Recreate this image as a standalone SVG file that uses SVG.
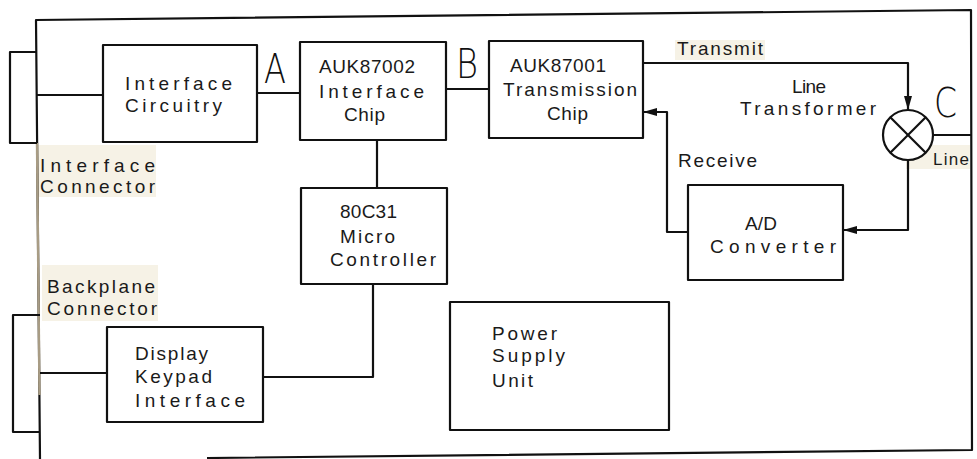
<svg xmlns="http://www.w3.org/2000/svg" width="977" height="459" viewBox="0 0 977 459">
<style>
.b{fill:#fff;stroke:#111;stroke-width:2.2;stroke-linejoin:round}
.l{fill:none;stroke:#111;stroke-width:2.2;stroke-linejoin:round}
.t{font-family:"Liberation Sans",Arial,sans-serif;font-size:19px;fill:#1a1a1a}
.big{font-family:"DejaVu Sans","Liberation Sans",sans-serif;font-weight:200;font-size:40px;fill:#111}
.bg{fill:#f6f2e6}
</style>
<defs>
<marker id="ar" viewBox="0 0 14 10" refX="14" refY="5" markerWidth="14" markerHeight="10" markerUnits="userSpaceOnUse" orient="auto">
<path d="M0,1 L14,5 L0,9 Z" fill="#111"/>
</marker>
</defs>
<rect width="977" height="459" fill="#fff"/>
<rect class="bg" x="38" y="145" width="118" height="52"/>
<rect class="bg" x="42" y="265" width="116" height="56"/>
<rect class="bg" x="906" y="145" width="64" height="24"/>
<rect class="bg" x="675" y="40" width="90" height="20"/>
<g id="frame">
<polyline class="l" points="207,458 972,450 971,10 36,20 40,459"/>
<line x1="37" y1="143" x2="39.5" y2="395" stroke="#a89c84" stroke-width="2.4"/>
</g>
<g id="connectors">
<polyline class="l" points="36,52 10,52 10,143 37,143"/>
<polyline class="l" points="40,315 13,315 13,432 40,432"/>
<line class="l" x1="36" y1="95" x2="103" y2="95"/>
<line class="l" x1="257" y1="93" x2="300" y2="93"/>
<line class="l" x1="446" y1="89" x2="489" y2="89"/>
<line class="l" x1="377" y1="140" x2="377" y2="188"/>
<polyline class="l" points="373,284 373,377 263,377"/>
<line class="l" x1="40" y1="373" x2="107" y2="373"/>
<polyline class="l" points="643,63 908,63 908,110" marker-end="url(#ar)"/>
<polyline class="l" points="688,232 667,232 667,112 643,112" marker-end="url(#ar)"/>
<polyline class="l" points="908,160 908,230 843,230" marker-end="url(#ar)"/>
<line class="l" x1="933" y1="135" x2="971" y2="135"/>
</g>
<g id="transformer">
<circle class="b" cx="908" cy="135" r="25"/>
<line class="l" x1="890.3" y1="117.3" x2="925.7" y2="152.7"/>
<line class="l" x1="925.7" y1="117.3" x2="890.3" y2="152.7"/>
</g>
<g id="interface-circuitry">
<rect class="b" x="103" y="45" width="154" height="97"/>
<text class="t" x="125" y="90" textLength="107" lengthAdjust="spacing">Interface</text>
<text class="t" x="125" y="112" textLength="97" lengthAdjust="spacing">Circuitry</text>
</g>
<g id="auk87002">
<rect class="b" x="300" y="42" width="146" height="98"/>
<text class="t" x="319" y="73" textLength="96" lengthAdjust="spacing">AUK87002</text>
<text class="t" x="319" y="98" textLength="105" lengthAdjust="spacing">Interface</text>
<text class="t" x="344" y="121" textLength="41" lengthAdjust="spacing">Chip</text>
</g>
<g id="auk87001">
<rect class="b" x="489" y="41" width="154" height="97"/>
<text class="t" x="510" y="72" textLength="96" lengthAdjust="spacing">AUK87001</text>
<text class="t" x="503" y="96" textLength="134" lengthAdjust="spacing">Transmission</text>
<text class="t" x="547" y="120" textLength="41" lengthAdjust="spacing">Chip</text>
</g>
<g id="microcontroller">
<rect class="b" x="301" y="188" width="146" height="96"/>
<text class="t" x="340" y="218" textLength="57" lengthAdjust="spacing">80C31</text>
<text class="t" x="340" y="243" textLength="55" lengthAdjust="spacing">Micro</text>
<text class="t" x="330" y="266" textLength="106" lengthAdjust="spacing">Controller</text>
</g>
<g id="display-keypad">
<rect class="b" x="107" y="327" width="156" height="95"/>
<text class="t" x="135" y="360" textLength="73" lengthAdjust="spacing">Display</text>
<text class="t" x="135" y="383" textLength="77" lengthAdjust="spacing">Keypad</text>
<text class="t" x="135" y="407" textLength="110" lengthAdjust="spacing">Interface</text>
</g>
<g id="power-supply">
<rect class="b" x="450" y="302" width="219" height="128"/>
<text class="t" x="492" y="340" textLength="65" lengthAdjust="spacing">Power</text>
<text class="t" x="492" y="362" textLength="73" lengthAdjust="spacing">Supply</text>
<text class="t" x="492" y="387" textLength="41" lengthAdjust="spacing">Unit</text>
</g>
<g id="ad-converter">
<rect class="b" x="688" y="185" width="155" height="95"/>
<text class="t" x="745" y="230" textLength="32" lengthAdjust="spacing">A/D</text>
<text class="t" x="710" y="253" textLength="126" lengthAdjust="spacing">Converter</text>
</g>
<g id="labels">
<text class="t" x="40" y="172" textLength="115" lengthAdjust="spacing">Interface</text>
<text class="t" x="40" y="193" textLength="115" lengthAdjust="spacing">Connector</text>
<text class="t" x="47" y="293" textLength="108" lengthAdjust="spacing">Backplane</text>
<text class="t" x="47" y="315" textLength="110" lengthAdjust="spacing">Connector</text>
<text class="t" x="677" y="55" textLength="86" lengthAdjust="spacing">Transmit</text>
<text class="t" x="792" y="93" textLength="34" lengthAdjust="spacing">Line</text>
<text class="t" x="740" y="115" textLength="136" lengthAdjust="spacing">Transformer</text>
<text class="t" x="678" y="167" textLength="79" lengthAdjust="spacing">Receive</text>
<text class="t" x="933" y="165" textLength="36" lengthAdjust="spacing" style="font-size:17px">Line</text>
<text class="big" x="264" y="83" textLength="22" lengthAdjust="spacingAndGlyphs">A</text>
<text class="big" x="456" y="78" textLength="22" lengthAdjust="spacingAndGlyphs">B</text>
<text class="big" x="934" y="117" textLength="23" lengthAdjust="spacingAndGlyphs">C</text>
</g>
</svg>
